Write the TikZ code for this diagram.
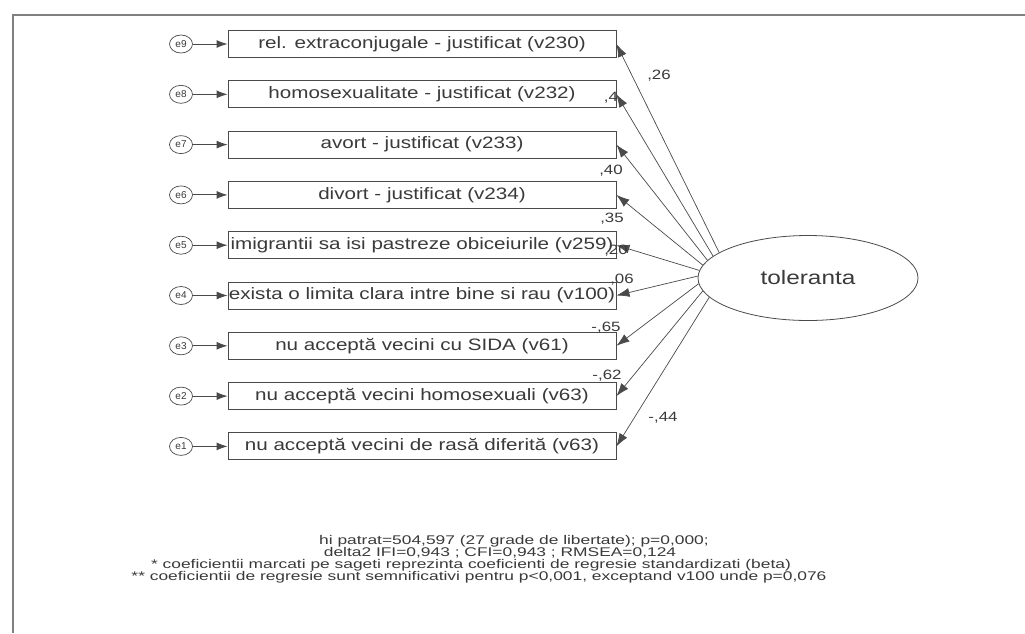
\documentclass[tikz,border=0pt]{standalone}
\usepackage{fontspec}
\setmainfont{Liberation Sans}
\newfontfamily\boxfont[FakeStretch=1.25]{Liberation Sans}
\newfontfamily\notefont[FakeStretch=1.38]{Liberation Sans}
\usetikzlibrary{arrows.meta,shapes.geometric}
\definecolor{linec}{HTML}{4A4A4A}
\definecolor{txtc}{HTML}{3A3A3A}
\definecolor{framec}{HTML}{808080}
\begin{document}
\begin{tikzpicture}[x=1pt,y=-1pt,
  obs/.style={draw=linec, line width=0.9pt, minimum width=388pt, minimum height=27pt, inner sep=0pt,
    text=txtc, font=\boxfont\fontsize{16.5}{18}\selectfont},
  err/.style={ellipse, draw=linec, line width=0.7pt, minimum width=23pt, minimum height=18pt, inner sep=0pt,
    text=txtc, font=\fontsize{10}{10}\selectfont},
  lat/.style={ellipse, draw=linec, line width=0.8pt, minimum width=220pt, minimum height=85pt, inner sep=0pt,
    text=txtc, font=\boxfont\fontsize{19.5}{21}\selectfont},
  errarr/.style={draw=linec, line width=0.9pt, -{Latex[length=11pt,width=8pt]}},
  patharr/.style={draw=linec, line width=0.7pt, -{Latex[length=13pt,width=9pt]}},
  coef/.style={inner sep=0pt, text=txtc, font=\boxfont\fontsize{13.5}{14}\selectfont},
  note/.style={inner sep=0pt, text=txtc, font=\notefont\fontsize{12.6}{12.6}\selectfont}
]
\useasboundingbox (0,0) rectangle (1025,633);
\fill[white] (0,0) rectangle (1025,633);
\draw[framec, line width=2pt] (13,633) -- (13,15) -- (1025,15);

% observed variables
\node[obs] (b1) at (422,44.0)  {rel. extraconjugale - justificat (v230)};
\node[obs] (b2) at (422,94.3)  {homosexualitate - justificat (v232)};
\node[obs] (b3) at (422,144.6) {avort - justificat (v233)};
\node[obs] (b4) at (422,194.9) {divort - justificat (v234)};
\node[obs] (b5) at (422,245.2) {imigrantii sa isi pastreze obiceiurile (v259)};
\node[obs] (b6) at (422,295.5) {exista o limita clara intre bine si rau (v100)};
\node[obs] (b7) at (422,345.8) {nu acceptă vecini cu SIDA (v61)};
\node[obs] (b8) at (422,396.1) {nu acceptă vecini homosexuali (v63)};
\node[obs] (b9) at (422,446.4) {nu acceptă vecini de rasă diferită (v63)};

% error terms
\node[err] (e9) at (181,44.0)  {e9};
\node[err] (e8) at (181,94.3)  {e8};
\node[err] (e7) at (181,144.6) {e7};
\node[err] (e6) at (181,194.9) {e6};
\node[err] (e5) at (181,245.2) {e5};
\node[err] (e4) at (181,295.5) {e4};
\node[err] (e3) at (181,345.8) {e3};
\node[err] (e2) at (181,396.1) {e2};
\node[err] (e1) at (181,446.4) {e1};

\draw[errarr] (e9) -- (b1);
\draw[errarr] (e8) -- (b2);
\draw[errarr] (e7) -- (b3);
\draw[errarr] (e6) -- (b4);
\draw[errarr] (e5) -- (b5);
\draw[errarr] (e4) -- (b6);
\draw[errarr] (e3) -- (b7);
\draw[errarr] (e2) -- (b8);
\draw[errarr] (e1) -- (b9);

% latent variable
\node[lat] (tol) at (808,278) {toleranta};

\draw[patharr] (tol.164) -- (b1.east);
\draw[patharr] (tol.167) -- (b2.east);
\draw[patharr] (tol.170) -- (b3.east);
\draw[patharr] (tol.173) -- (b4.east);
\draw[patharr] (tol.176) -- (b5.east);
\draw[patharr] (tol.179) -- (b6.east);
\draw[patharr] (tol.183) -- (b7.east);
\draw[patharr] (tol.187) -- (b8.east);
\draw[patharr] (tol.191) -- (b9.east);

% coefficients
\node[coef] (c1) at (659,76)  {,26};
\node[coef] (c2) at (611,98)  {,4};
\node[coef] (c3) at (611,171) {,40};
\node[coef] (c4) at (612,219) {,35};
\node[coef] (c5) at (616,251) {,20};
\node[coef] (c6) at (622,280) {,06};
\node[coef] (c7) at (606,328) {-,65};
\node[coef] (c8) at (607,376) {-,62};
\node[coef] (c9) at (663,418) {-,44};

% notes
\node[note] (n1) at (514,541) {hi patrat=504,597 (27 grade de libertate); p=0,000;};
\node[note] (n2) at (500,553) {delta2 IFI=0,943 ; CFI=0,943 ; RMSEA=0,124};
\node[note] (n3) at (471,565) {* coeficientii marcati pe sageti reprezinta coeficienti de regresie standardizati (beta)};
\node[note] (n4) at (479,577) {** coeficientii de regresie sunt semnificativi pentru p<0,001, exceptand v100 unde p=0,076};
\end{tikzpicture}
\end{document}
